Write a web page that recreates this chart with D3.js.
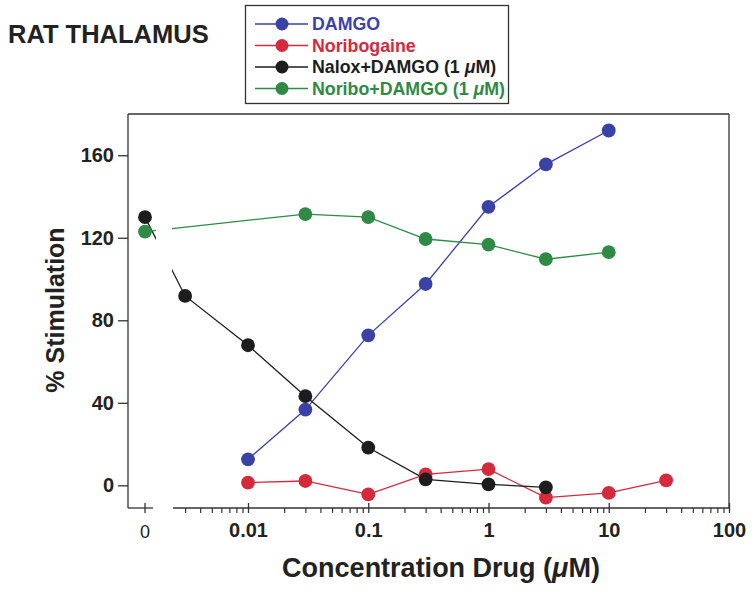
<!DOCTYPE html>
<html>
<head>
<meta charset="utf-8">
<script src="https://cdn.jsdelivr.net/npm/d3@7"></script>
<style>
  html, body { margin: 0; padding: 0; background: #fff; }
  svg { display: block; font-family: "Liberation Sans", Arial, Helvetica, sans-serif; }
</style>
</head>
<body>
<svg id="chart" width="755" height="591"></svg>
<script>
// ---------------- data ----------------
const seriesNames = ["DAMGO", "Noribogaine", "Nalox+DAMGO (1 \u03BCM)", "Noribo+DAMGO (1 \u03BCM)"];
const seriesColors = ["#3a42a6", "#d42a3c", "#1d1d1d", "#2e8a45"];

const damgoX = [0.01, 0.03, 0.1, 0.3, 1, 3, 10];
const damgoY = [12.6, 36.7, 72.7, 97.6, 135, 155.6, 172];

const noribX = [0.01, 0.03, 0.1, 0.3, 1, 3, 10, 30];
const noribY = [1.3, 2.1, -4.4, 5.3, 7.8, -6, -3.7, 2.4];

const naloxX = [0, 0.003, 0.01, 0.03, 0.1, 0.3, 1, 3];
const naloxY = [130, 91.8, 67.9, 43.2, 18.3, 2.9, 0.5, -1];

const noriboDamgoX = [0, 0.03, 0.1, 0.3, 1, 3, 10];
const noriboDamgoY = [123, 131.5, 130, 119.4, 116.7, 109.6, 113];

const xMajorTicks = [0.01, 0.1, 1, 10, 100];
const xMajorLabels = ["0.01", "0.1", "1", "10", "100"];
const yTicks = [0, 40, 80, 120, 160];

const titleText = "RAT THALAMUS";
const xTitle = "Concentration Drug (";
const yTitle = "% Stimulation";

// ---------------- layout ----------------
const plotLeft = 128, plotRight = 729, plotTop = 114, plotBottom = 508;
const zeroX = 145, breakLeftEnd = 153, logStart = 173;

const svg = d3.select("#chart");

const y = d3.scaleLinear().domain([-11, 180]).range([plotBottom, plotTop]);
const xLog = d3.scaleLog().domain([0.01, 100]).range([248, plotRight]);
const logMin = xLog.invert(logStart);
const xPos = v => (v === 0 ? zeroX : xLog(v));

const series = [
  { name: seriesNames[0], color: seriesColors[0], xs: damgoX, ys: damgoY },
  { name: seriesNames[1], color: seriesColors[1], xs: noribX, ys: noribY },
  { name: seriesNames[2], color: seriesColors[2], xs: naloxX, ys: naloxY },
  { name: seriesNames[3], color: seriesColors[3], xs: noriboDamgoX, ys: noriboDamgoY }
];

// clip: gap in the axis break
const defs = svg.append("defs");
const cp = defs.append("clipPath").attr("id", "breakclip");
cp.append("rect").attr("x", 0).attr("y", 0).attr("width", 156).attr("height", 591);
cp.append("rect").attr("x", 172).attr("y", 0).attr("width", 600).attr("height", 591);

// ---------------- frame ----------------
const frame = svg.append("g").attr("stroke", "#333").attr("stroke-width", 1.3).attr("fill", "none");
frame.append("line").attr("x1", plotLeft).attr("x2", plotRight).attr("y1", plotTop).attr("y2", plotTop);
frame.append("line").attr("x1", plotRight).attr("x2", plotRight).attr("y1", plotTop).attr("y2", plotBottom);
frame.append("line").attr("x1", plotLeft).attr("x2", plotLeft).attr("y1", plotTop).attr("y2", plotBottom);
frame.append("line").attr("x1", plotLeft).attr("x2", breakLeftEnd).attr("y1", plotBottom).attr("y2", plotBottom);
frame.append("line").attr("x1", logStart).attr("x2", plotRight).attr("y1", plotBottom).attr("y2", plotBottom);

// ---------------- y axis ----------------
const yAxis = d3.axisLeft(y).tickValues(yTicks).tickSize(10).tickPadding(4).tickSizeOuter(0);
const yg = svg.append("g").attr("transform", `translate(${plotLeft},0)`).call(yAxis);
yg.select(".domain").remove();
yg.selectAll(".tick line").attr("stroke", "#333").attr("stroke-width", 1.3);
yg.selectAll(".tick text").attr("font-size", 20).attr("font-weight", "bold").attr("fill", "#222")
  .attr("font-family", "Liberation Sans, Arial, sans-serif");

// ---------------- x axis (log) ----------------
const minorTicks = [];
[0.001, 0.01, 0.1, 1, 10].forEach(d => {
  for (let k = 2; k <= 9; k++) {
    const v = d * k;
    if (v >= logMin && v < 100) minorTicks.push(v);
  }
});
const minorAxis = d3.axisBottom(xLog).tickValues(minorTicks).tickSize(5).tickFormat("");
const mg = svg.append("g").attr("transform", `translate(0,${plotBottom})`).call(minorAxis);
mg.select(".domain").remove();
mg.selectAll(".tick line").attr("stroke", "#333").attr("stroke-width", 1.2);

const majorAxis = d3.axisBottom(xLog).tickValues(xMajorTicks)
  .tickFormat((d, i) => xMajorLabels[i]).tickSize(5).tickPadding(10);
const xg = svg.append("g").attr("transform", `translate(0,${plotBottom})`).call(majorAxis);
xg.select(".domain").remove();
xg.selectAll(".tick line").attr("stroke", "#333").attr("stroke-width", 1.3).attr("y1", -5);
xg.selectAll(".tick text").attr("font-size", 20).attr("font-weight", "bold").attr("fill", "#222")
  .attr("font-family", "Liberation Sans, Arial, sans-serif");

// zero tick on broken segment
const zg = svg.append("g").attr("transform", `translate(${zeroX},${plotBottom})`);
zg.append("line").attr("y1", -5).attr("y2", 5).attr("stroke", "#333").attr("stroke-width", 1.3);
zg.append("text").attr("y", 30).attr("text-anchor", "middle").attr("font-size", 18)
  .attr("font-weight", "normal").attr("fill", "#222").text("0");

// ---------------- series ----------------
const line = d3.line().x(d => xPos(d[0])).y(d => y(d[1]));
series.forEach(s => {
  const pts = s.xs.map((v, i) => [v, s.ys[i]]);
  svg.append("path").datum(pts).attr("d", line).attr("fill", "none")
    .attr("stroke", s.color).attr("stroke-width", 1.3).attr("clip-path", "url(#breakclip)");
});
series.forEach(s => {
  const pts = s.xs.map((v, i) => [v, s.ys[i]]);
  svg.append("g").selectAll("circle").data(pts).join("circle")
    .attr("cx", d => xPos(d[0])).attr("cy", d => y(d[1])).attr("r", 6.9)
    .attr("fill", s.color);
});

// ---------------- titles ----------------
svg.append("text").attr("x", 8).attr("y", 43).attr("font-size", 25.5).attr("font-weight", "bold")
  .attr("fill", "#222").text(titleText);

const xt = svg.append("text").attr("x", 441).attr("y", 577).attr("text-anchor", "middle")
  .attr("font-size", 27).attr("font-weight", "bold").attr("fill", "#222");
xt.append("tspan").text(xTitle);
xt.append("tspan").attr("font-style", "italic").text("\u03BC");
xt.append("tspan").text("M)");

svg.append("text").attr("transform", "translate(64,310) rotate(-90)").attr("text-anchor", "middle")
  .attr("font-size", 25).attr("font-weight", "bold").attr("fill", "#222").text(yTitle);

// ---------------- legend ----------------
const lg = svg.append("g");
lg.append("rect").attr("x", 245.5).attr("y", 5.5).attr("width", 263).attr("height", 98)
  .attr("fill", "#fff").attr("stroke", "#333").attr("stroke-width", 1.3);
series.forEach((s, i) => {
  const cy = 24 + i * 21.5;
  lg.append("line").attr("x1", 255).attr("x2", 308).attr("y1", cy).attr("y2", cy)
    .attr("stroke", s.color).attr("stroke-width", 1.3);
  lg.append("circle").attr("cx", 282).attr("cy", cy).attr("r", 6.5).attr("fill", s.color);
  const t = lg.append("text").attr("x", 312).attr("y", cy + 6).attr("font-size", 17.8)
    .attr("font-weight", "bold").attr("fill", s.color);
  const parts = s.name.split("\u03BC");
  t.append("tspan").text(parts[0]);
  if (parts.length > 1) {
    t.append("tspan").attr("font-style", "italic").text("\u03BC");
    t.append("tspan").text(parts[1]);
  }
});
</script>
</body>
</html>
